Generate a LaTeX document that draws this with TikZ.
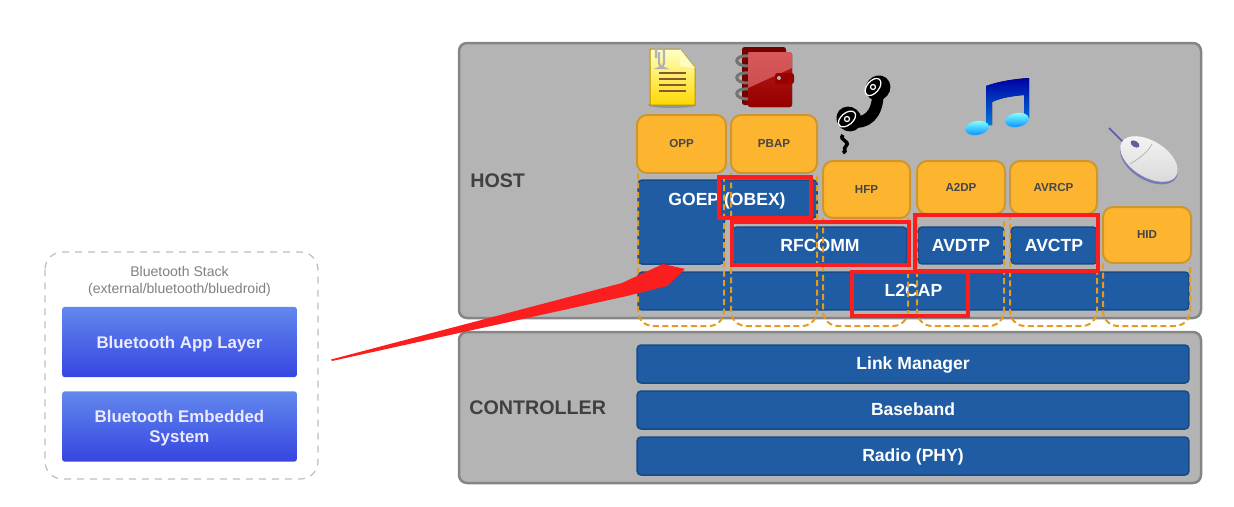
\documentclass[tikz,border=0pt]{standalone}
\usepackage{fontspec}
\setmainfont{Liberation Sans}
\usetikzlibrary{shadings}
\definecolor{panelgray}{HTML}{B4B4B4}
\definecolor{panelline}{HTML}{858585}
\definecolor{layerblue}{HTML}{1F5CA4}
\definecolor{layerline}{HTML}{174A86}
\definecolor{profileorange}{HTML}{FDB52F}
\definecolor{profileline}{HTML}{CF962C}
\definecolor{dashorange}{HTML}{E59C1C}
\definecolor{markred}{HTML}{FA1E1E}
\definecolor{stacktop}{HTML}{6288EE}
\definecolor{stackbottom}{HTML}{3645E0}
\tikzset{
  panelbox/.style={draw=panelline,line width=0.5mm,fill=panelgray,rounded corners=1.6mm},
  panellabel/.style={inner sep=0pt,text=black!75,font=\bfseries\fontsize{11.2}{13}\selectfont},
  layerbox/.style={draw=layerline,line width=0.3mm,fill=layerblue,rounded corners=0.8mm,inner sep=0pt,text=white,text height=7.2pt,text depth=0.8pt,font=\bfseries\fontsize{10}{12}\selectfont},
  profilebox/.style={draw=profileline,line width=0.4mm,fill=profileorange,rounded corners=2mm,inner sep=0pt,text=black!72,font=\bfseries\fontsize{6.6}{9}\selectfont},
  markbox/.style={draw=markred,line width=0.66mm},
  columnline/.style={draw=dashorange,line width=0.4mm,dash pattern=on 1.2mm off 0.7mm,rounded corners=3mm},
  stackbox/.style={top color=stacktop,bottom color=stackbottom,rounded corners=0.6mm,inner sep=0pt,text=white!92!blue,align=center,minimum width=4.7cm,minimum height=1.41cm,font=\bfseries\fontsize{9.6}{11.5}\selectfont},
}
\begin{document}
\begin{tikzpicture}[x=0.02cm,y=-0.02cm]
  \useasboundingbox (0,0) rectangle (1234,507);

  % left part
  \draw[gray!50,line width=0.25mm,dash pattern=on 1.4mm off 1.2mm,rounded corners=3.5mm] (45,252) rectangle (318,479);
  \node[text=black!50,align=center,font=\fontsize{8}{9.6}\selectfont] (stacktitle) at (179.5,281) {Bluetooth Stack\\(external/bluetooth/bluedroid)};
  \node[stackbox,execute at begin node={\rule{0pt}{9.6pt}}] (applayer) at (179.5,342) {Bluetooth App Layer};
  \node[stackbox] (embedded) at (179.5,426.5) {\\[-3pt]Bluetooth Embedded\\System};

  % panels
  \draw[panelbox] (459,43) rectangle (1201,318);
  \draw[panelbox] (459,332) rectangle (1201,483);
  \node[panellabel,anchor=west] (hostlabel) at (470,181) {HOST};
  \node[panellabel,anchor=west] (controllerlabel) at (469,408) {CONTROLLER};

  % blue layers
  \draw[layerbox] (638,180)--(817,180)--(817,218)--(724,218)--(724,264)--(638,264)--cycle;
  \node[layerbox,draw=none,fill=none] (goep) at (727,199.5) {GOEP (OBEX)};
  \node[layerbox,minimum width=3.48cm,minimum height=0.74cm] (rfcomm) at (820,245.5) {RFCOMM};
  \node[layerbox,minimum width=1.72cm,minimum height=0.74cm] (avdtp) at (961,245.5) {AVDTP};
  \node[layerbox,minimum width=1.72cm,minimum height=0.74cm] (avctp) at (1054,245.5) {AVCTP};
  \node[layerbox,minimum width=11.02cm,minimum height=0.76cm] (l2cap) at (913.5,291) {L2CAP};
  \node[layerbox,minimum width=11.04cm,minimum height=0.76cm] (linkmanager) at (913,364) {Link Manager};
  \node[layerbox,minimum width=11.04cm,minimum height=0.76cm] (baseband) at (913,410) {Baseband};
  \node[layerbox,minimum width=11.04cm,minimum height=0.76cm] (radio) at (913,456) {Radio (PHY)};

  % dashed columns
  \foreach \xl/\xr/\ytop in {638/724/173,731/817/173,823/908/218,917/1004/214,1010/1097/214,1103/1190/263}
    \draw[columnline] (\xl,\ytop)--(\xl,326)--(\xr,326)--(\xr,\ytop);

  % orange profiles
  \node[profilebox,minimum width=1.78cm,minimum height=1.16cm] (opp) at (681.5,144) {OPP};
  \node[profilebox,minimum width=1.72cm,minimum height=1.16cm] (pbap) at (774,144) {PBAP};
  \node[profilebox,minimum width=1.74cm,minimum height=1.14cm] (hfp) at (866.5,189.5) {HFP};
  \node[profilebox,minimum width=1.76cm,minimum height=1.06cm] (atwodp) at (961,187.5) {A2DP};
  \node[profilebox,minimum width=1.74cm,minimum height=1.06cm] (avrcp) at (1053.5,187.5) {AVRCP};
  \node[profilebox,minimum width=1.76cm,minimum height=1.12cm] (hid) at (1147,235) {HID};

  % red marks
  \draw[markbox] (719,177) rectangle (811,218);
  \draw[markbox] (732,222) rectangle (909,265);
  \draw[markbox] (915,215) rectangle (1098,271);
  \draw[markbox] (852,272) rectangle (968,316);

  % document
  \fill[black!60,opacity=0.4] (672,105) ellipse (24 and 3);
  \draw[top color=yellow!22!white,bottom color=yellow!70!orange,draw=olive!60!orange,line width=0.2mm] (650,49)--(680,49)--(695,68)--(695,105)--(650,105)--cycle;
  \fill[white!75!yellow] (680,49)--(695,68)--(680,66)--cycle;
  \foreach \yline in {73,79,85,91}
    \draw[brown!70!black,line width=0.45mm] (659,\yline)--(686,\yline);
  \draw[gray!60,line width=0.45mm,rounded corners=1mm] (656,58)--(656,46)--(664,46)--(664,68)--(659,68)--(659,52);

  % wallet
  \fill[red!45!black,rounded corners=0.5mm] (742,47)--(786,47)--(786,105)--(742,105)--cycle;
  \foreach \yring in {61,78,94}
    \draw[black!55,line width=0.6mm] (748,\yring-5)..controls (733,\yring-6) and (733,\yring+5)..(748,\yring+5);
  \fill[top color=red!70!black!90,bottom color=red!58!black,rounded corners=0.5mm] (748,52)--(792,52)--(792,107)--(748,107)--cycle;
  \fill[red!35!white,opacity=0.45] (748,52)--(792,52)--(792,68)--(748,88)--cycle;
  \fill[red!60!black,rounded corners=0.5mm] (775,73) rectangle (794,84);
  \fill[gray!60] (779,78) circle (2);

  % phone
  \draw[black,line width=2.3mm,line cap=round] (878,92)..controls (878,116) and (866,124)..(851,122);
  \fill[black,rotate around={-40:(878,88)}] (878,88) ellipse (12 and 13);
  \fill[black,rotate around={-40:(849,119)}] (849,119) ellipse (13 and 12);
  \draw[white,line width=0.25mm,rotate around={-40:(873,87)}] (873,87) ellipse (6 and 10);
  \draw[white,line width=0.25mm] (873,87) circle (2.5);
  \draw[white,line width=0.25mm,rotate around={-50:(847,119)}] (847,119) ellipse (6 and 10);
  \draw[white,line width=0.25mm] (847,119) circle (2.5);
  \draw[black,line width=0.7mm] (843,135)..controls (838,140) and (851,141)..(846,146)..controls (842,150) and (848,150)..(843,153);

  % music note
  \fill[top color=blue!65!black,bottom color=blue!45!cyan!85!black] (986,86)..controls (1000,81) and (1015,79)..(1029,78)--(1029,118)--(1024,118)--(1024,95)..controls (1012,96) and (1000,98)..(992,102)--(992,125)--(986,125)--cycle;
  \shade[top color=cyan!50!white,bottom color=blue!45!cyan,rotate around={10:(977,128)}] (977,128) ellipse (12 and 7);
  \shade[top color=cyan!50!white,bottom color=blue!45!cyan,rotate around={10:(1017,120)}] (1017,120) ellipse (12 and 7);

  % mouse
  \draw[blue!30!gray,line width=0.3mm] (1109,128)--(1124,143);
  \fill[blue!30!gray!80,rotate around={-32:(1149,161)}] (1149,161) ellipse (32 and 19);
  \shade[top color=white!92!gray,bottom color=gray!30,rotate around={-32:(1149,159)}] (1149,159) ellipse (32 and 18);
  \draw[gray!60,line width=0.15mm] (1130,164)..controls (1140,158) and (1148,152)..(1152,144);
  \fill[blue!25!gray,rotate around={-32:(1135,144)}] (1135,144) ellipse (5 and 3);

  % red arrow
  \coordinate (arrowstart) at (332,361);
  \coordinate (arrowtip) at (685,269);
  \fill[markred] (331,359.5)--(622,283)--(663,264)--(arrowtip)--(667,286)--(627,296)--(arrowstart)--cycle;
\end{tikzpicture}
\end{document}
